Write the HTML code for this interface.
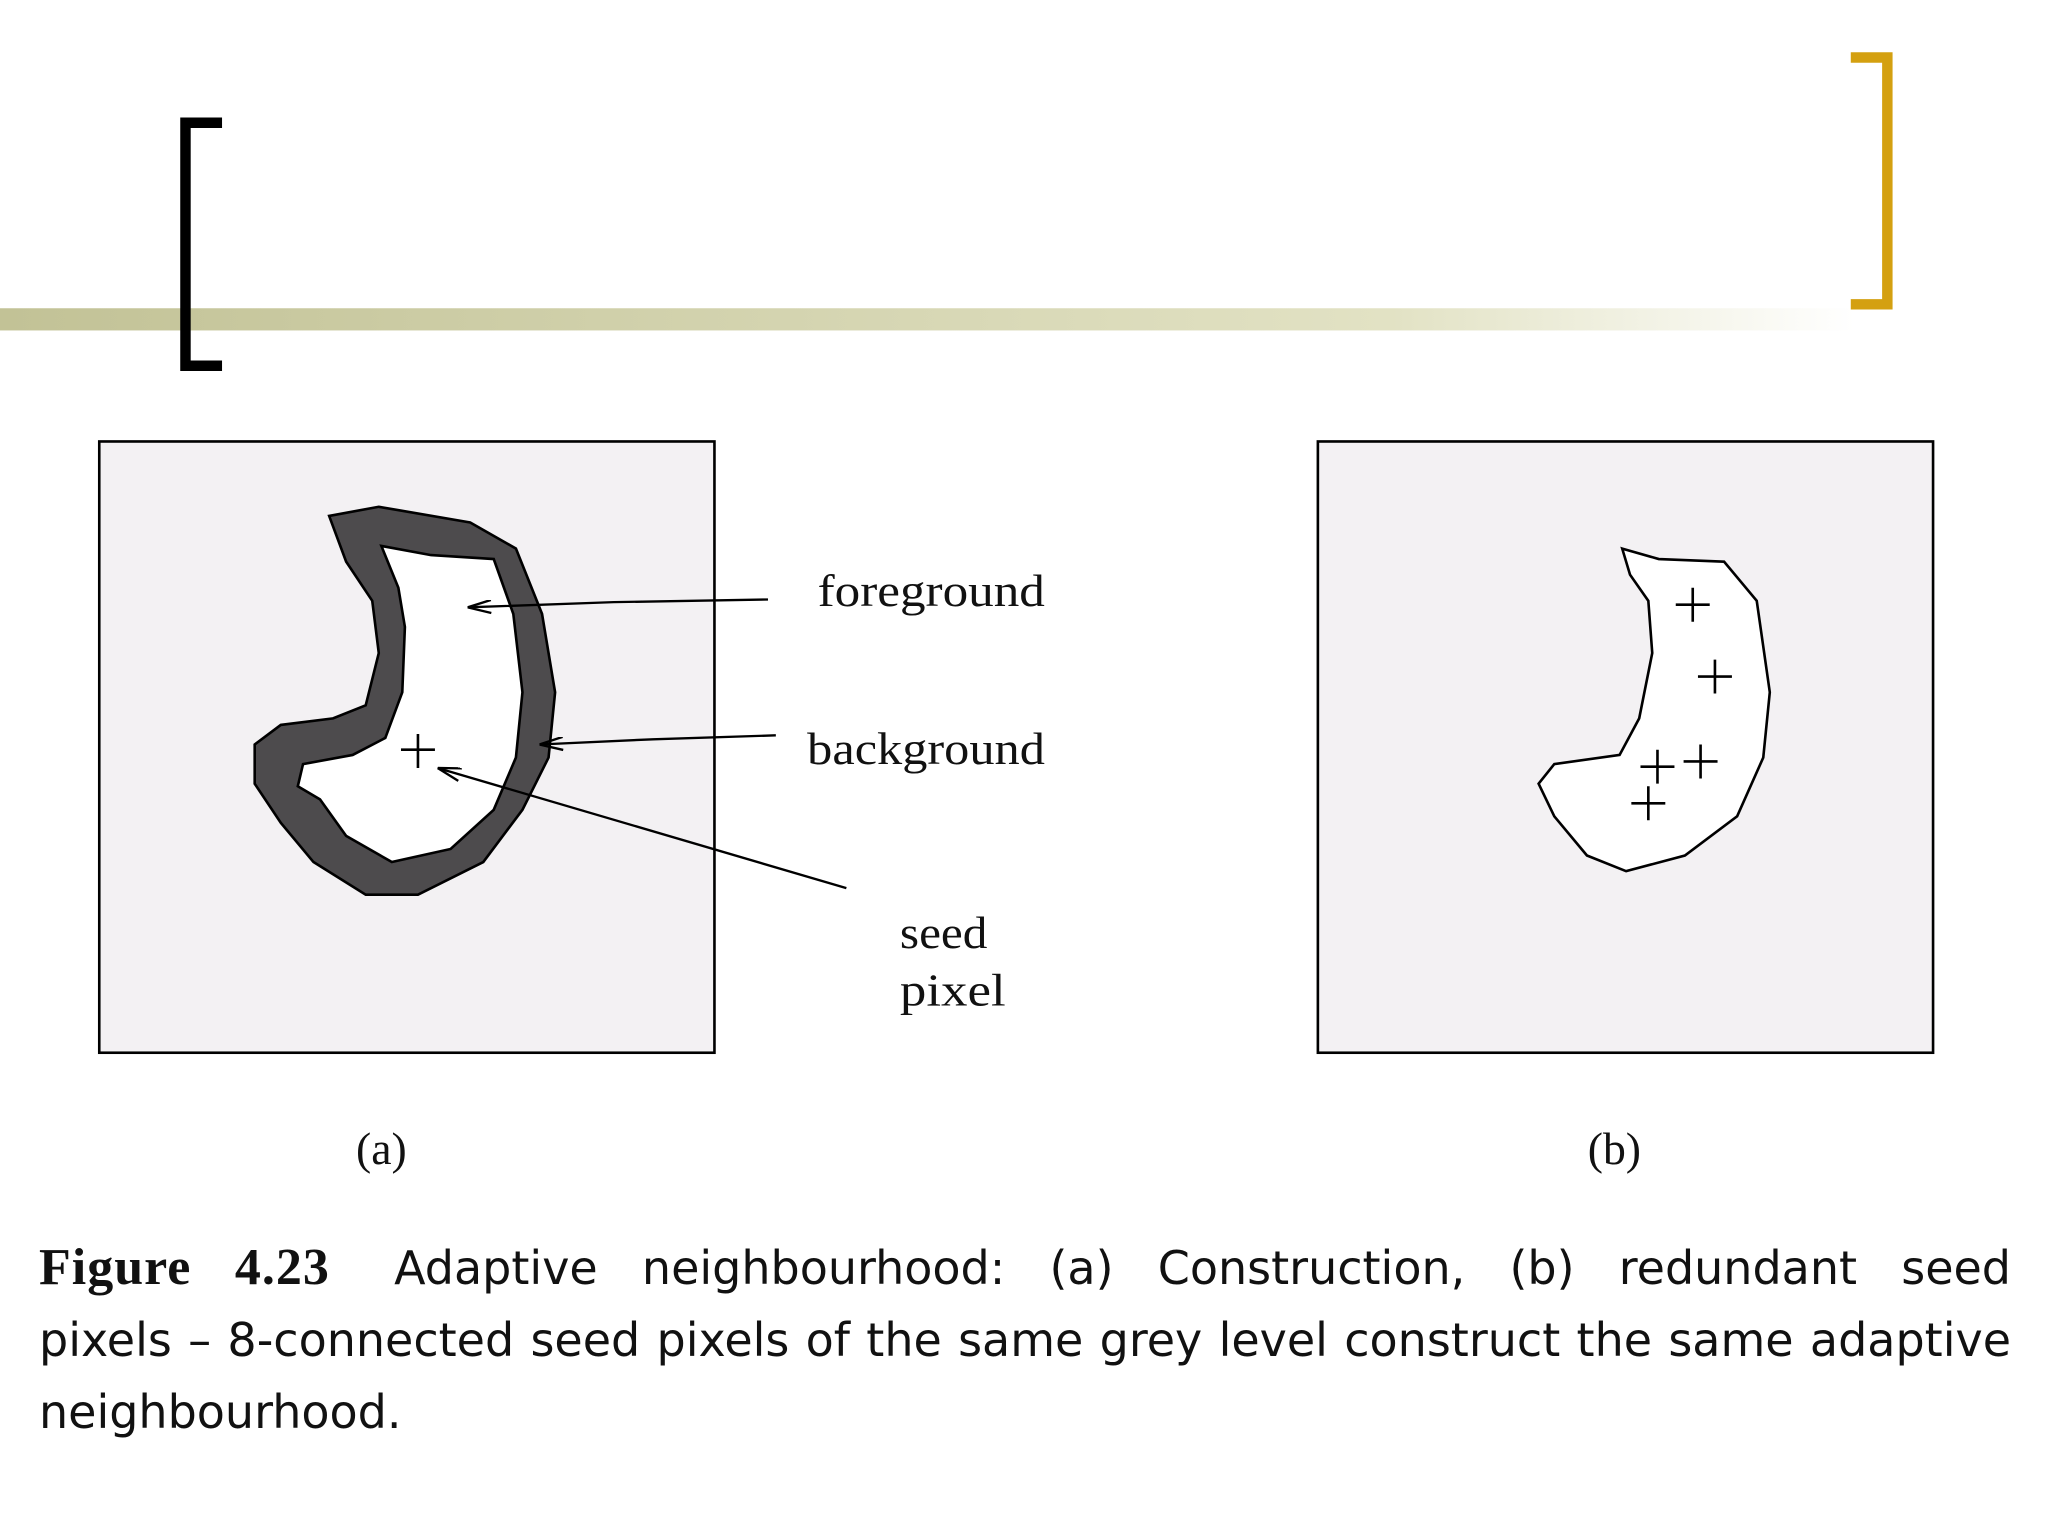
<!DOCTYPE html>
<html><head><meta charset="utf-8"><style>
html,body{margin:0;padding:0;background:#fff;}
body{width:2048px;height:1536px;position:relative;overflow:hidden;}
svg{position:absolute;left:0;top:0;}
.cap{position:absolute;left:39px;top:1232px;width:1972px;font-family:"DejaVu Sans","Liberation Sans",sans-serif;font-size:46px;line-height:72px;color:#111;}
.cap div{white-space:nowrap;}
.cap .j{text-align:justify;text-align-last:justify;white-space:normal;}
.cap b{font-family:"Liberation Serif",serif;font-size:52px;letter-spacing:1px;margin-right:20px;}
</style></head><body>
<svg width="2048" height="1536" viewBox="0 0 1568 1176">
<defs><linearGradient id="g" x1="0" x2="1"><stop offset="0" stop-color="#c2c296"/><stop offset="0.75" stop-color="#e2e2c4"/><stop offset="1" stop-color="#ffffff"/></linearGradient>
<marker id="ah" markerUnits="userSpaceOnUse" markerWidth="24" markerHeight="12" refX="0" refY="5" orient="auto"><path d="M18,0 L0,5 L18,10" fill="none" stroke="#000" stroke-width="1.8"/></marker></defs>
<rect x="0" y="236" width="1420" height="17" fill="url(#g)"/>
<path d="M170,94 H142 V280 H170" fill="none" stroke="#000" stroke-width="8"/>
<path d="M1417,44 H1445 V233 H1417" fill="none" stroke="#d4a010" stroke-width="8"/>
<rect x="76" y="338" width="471" height="468" fill="#f3f1f3" stroke="#000" stroke-width="2"/>
<rect x="1009" y="338" width="471" height="468" fill="#f3f1f3" stroke="#000" stroke-width="2"/>
<path d="M252,395 L290,388 L360,400 L395,420 L415,470 L425,530 L420,580 L400,620 L370,660 L320,685 L280,685 L240,660 L215,630 L195,600 L195,570 L215,555 L255,550 L280,540 L290,500 L285,460 L265,430 Z" fill="#4d4b4d" stroke="#000" stroke-width="2"/>
<path d="M292,418 L330,425 L378,428 L393,470 L400,530 L395,580 L378,620 L345,650 L300,660 L265,640 L245,612 L228,602 L232,585 L270,578 L295,565 L308,530 L310,480 L305,450 Z" fill="#fff" stroke="#000" stroke-width="2"/>
<path d="M320,562 V588 M307,574 H333" stroke="#000" stroke-width="2"/>
<path d="M358,465 L470,461 L588,459" fill="none" stroke="#000" stroke-width="1.8" marker-start="url(#ah)"/>
<path d="M413,570 L500,566 L594,563" fill="none" stroke="#000" stroke-width="1.8" marker-start="url(#ah)"/>
<path d="M335,588 L648,680" fill="none" stroke="#000" stroke-width="1.8" marker-start="url(#ah)"/>
<path d="M1242,420 L1270,428 L1320,430 L1345,460 L1355,530 L1350,580 L1330,625 L1290,655 L1245,667 L1215,655 L1190,625 L1178,600 L1190,585 L1240,578 L1255,550 L1265,500 L1262,460 L1248,440 Z" fill="#fff" stroke="#000" stroke-width="2"/>
<g stroke="#000" stroke-width="2">
<path d="M1296,450 V476 M1283,463 H1309"/>
<path d="M1313,505 V531 M1300,518 H1326"/>
<path d="M1269,574 V600 M1256,587 H1282"/>
<path d="M1302,570 V596 M1289,583 H1315"/>
<path d="M1262,602 V628 M1249,615 H1275"/>
</g>
<g font-family="Liberation Serif,serif" font-size="35" fill="#111">
<text x="626" y="464" textLength="174" lengthAdjust="spacingAndGlyphs">foreground</text>
<text x="618" y="585" textLength="182" lengthAdjust="spacingAndGlyphs">background</text>
<text x="689" y="726" textLength="67" lengthAdjust="spacingAndGlyphs">seed</text>
<text x="689" y="770" textLength="81" lengthAdjust="spacingAndGlyphs">pixel</text>
<text x="292" y="891" text-anchor="middle">(a)</text>
<text x="1236" y="891" text-anchor="middle">(b)</text>
</g>
</svg>
<div class="cap">
<div class="j"><b>Figure 4.23</b> Adaptive neighbourhood: (a) Construction, (b) redundant seed</div>
<div class="j">pixels – 8-connected seed pixels of the same grey level construct the same adaptive</div>
<div>neighbourhood.</div>
</div>
</body></html>
